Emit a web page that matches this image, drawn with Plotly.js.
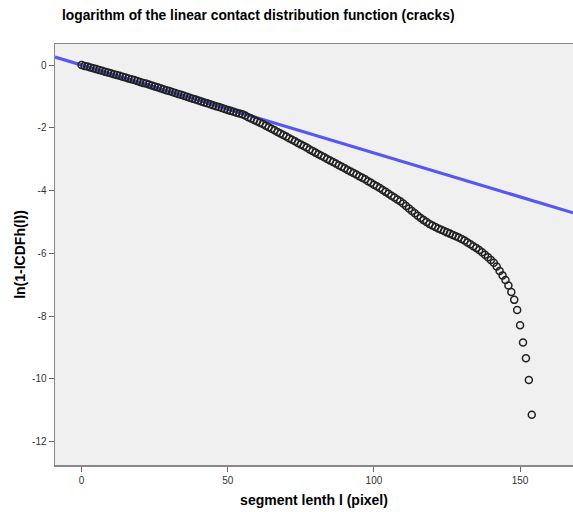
<!DOCTYPE html>
<html>
<head>
<meta charset="utf-8">
<script src="https://cdn.plot.ly/plotly-3.0.1.min.js"></script>
<style>html,body{margin:0;padding:0;background:#fff;}#chart{width:573px;height:512px;}</style>
</head>
<body>
<div id="chart"></div>
<script>
// segment length l (pixel)
const segmentLength = [];
for (let i = 0; i <= 154; i++) segmentLength.push(i);
// ln(1 - lCDFh(l))
const logValues = [
  0.00,-0.03,-0.05,-0.08,-0.10,-0.13,-0.16,-0.18,-0.21,-0.24,
 -0.26,-0.29,-0.32,-0.34,-0.37,-0.40,-0.43,-0.45,-0.48,-0.51,
 -0.54,-0.57,-0.59,-0.62,-0.65,-0.68,-0.71,-0.74,-0.77,-0.80,
 -0.83,-0.86,-0.89,-0.92,-0.95,-0.98,-1.01,-1.04,-1.07,-1.10,
 -1.13,-1.16,-1.19,-1.22,-1.25,-1.28,-1.31,-1.34,-1.37,-1.40,
 -1.43,-1.46,-1.49,-1.52,-1.54,-1.57,-1.61,-1.66,-1.70,-1.75,
 -1.79,-1.84,-1.88,-1.93,-1.98,-2.03,-2.08,-2.13,-2.18,-2.23,
 -2.28,-2.33,-2.38,-2.43,-2.48,-2.53,-2.58,-2.63,-2.69,-2.74,
 -2.79,-2.84,-2.89,-2.94,-2.99,-3.04,-3.09,-3.14,-3.19,-3.24,
 -3.29,-3.34,-3.39,-3.44,-3.49,-3.54,-3.59,-3.64,-3.70,-3.75,
 -3.81,-3.86,-3.92,-3.98,-4.04,-4.10,-4.16,-4.22,-4.28,-4.34,
 -4.41,-4.49,-4.57,-4.65,-4.72,-4.80,-4.87,-4.94,-5.00,-5.06,
 -5.11,-5.16,-5.21,-5.25,-5.29,-5.33,-5.37,-5.41,-5.45,-5.49,
 -5.54,-5.59,-5.65,-5.71,-5.77,-5.83,-5.89,-5.96,-6.04,-6.12,
 -6.21,-6.30,-6.42,-6.56,-6.70,-6.85,-7.02,-7.23,-7.48,-7.80,
 -8.29,-8.84,-9.34,-10.03,-11.14
];
// fitted reference line
const fitSlope = -0.028;
const fitIntercept = 0.0;
const xRange = [-9.1, 168.1];
const yRange = [-12.74, 0.67];
const xTicks = [0, 50, 100, 150];
const yTicks = [-12, -10, -8, -6, -4, -2, 0];

const fitX = xRange.slice();
const fitY = fitX.map(x => fitIntercept + fitSlope * x);

const font = "'Liberation Sans', Arial, sans-serif";

Plotly.newPlot('chart', [
  {x: fitX, y: fitY, type: 'scatter', mode: 'lines',
   line: {color: 'rgb(88,88,240)', width: 3.2}, hoverinfo: 'skip'},
  {x: segmentLength, y: logValues, type: 'scatter', mode: 'markers',
   marker: {symbol: 'circle-open', size: 7, color: '#222', line: {width: 1.5, color: '#222'}}}
], {
  width: 573, height: 512,
  margin: {l: 55, r: 0, t: 44, b: 47, pad: 0},
  paper_bgcolor: '#ffffff', plot_bgcolor: '#f0f0f0',
  showlegend: false,
  title: {text: 'logarithm of the linear contact distribution function (cracks)',
          x: 62/573, xanchor: 'left', xref: 'container', y: 1 - 15/512, yanchor: 'middle', yref: 'container',
          font: {family: font, size: 13.8, color: '#000', weight: 'bold'}},
  xaxis: {range: xRange, tickvals: xTicks, ticktext: xTicks.map(String),
          showgrid: false, zeroline: false, showline: true, linecolor: '#888', linewidth: 1.5, mirror: true,
          ticks: 'outside', ticklen: 5, tickcolor: '#666', tickwidth: 1,
          tickfont: {family: font, size: 10, color: '#333'},
          title: {text: 'segment lenth l (pixel)', standoff: 10, font: {family: font, size: 14, color: '#000', weight: 'bold'}}},
  yaxis: {range: yRange, tickvals: yTicks, ticktext: yTicks.map(String),
          showgrid: false, zeroline: false, showline: true, linecolor: '#888', linewidth: 1.5,
          ticks: 'outside', ticklen: 5, tickcolor: '#666', tickwidth: 1,
          tickfont: {family: font, size: 10, color: '#333'},
          title: {text: 'ln(1-lCDFh(l))', standoff: 3, font: {family: font, size: 14, color: '#000', weight: 'bold'}}}
}, {displayModeBar: false, staticPlot: true});
</script>
</body>
</html>
